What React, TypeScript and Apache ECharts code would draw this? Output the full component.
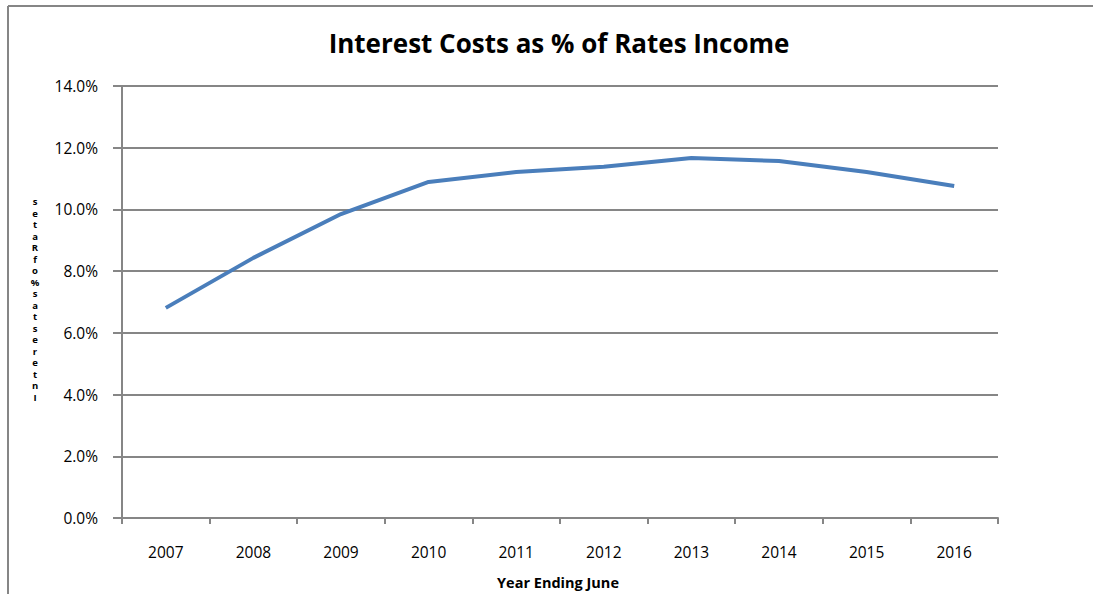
import React, { useEffect, useRef } from "react";
import * as echarts from "echarts";

const years = ["2007", "2008", "2009", "2010", "2011", "2012", "2013", "2014", "2015", "2016"];
const interestPct = [6.81, 8.43, 9.85, 10.89, 11.21, 11.38, 11.67, 11.57, 11.21, 10.76];
const titleText = "Interest Costs as % of Rates Income";
const xTitle = "Year Ending June";
const yTitle = "Interest as % of Rates";

export default function App() {
  const ref = useRef<HTMLDivElement>(null);
  useEffect(() => {
    if (!ref.current) return;
    const chart = echarts.init(ref.current, null, { renderer: "svg" });
    const stacked = yTitle.replace(/ /g, "").split("").reverse().join("\n");
    const font = "'Open Sans', 'Liberation Sans', sans-serif";
    chart.setOption({
      animation: false,
      backgroundColor: "#ffffff",
      title: {
        text: titleText,
        left: 554,
        top: 25,
        textAlign: "center",
        textStyle: { fontFamily: font, fontWeight: "bold", fontSize: 26, color: "#000" },
      },
      grid: { left: 122, right: 95, top: 86, bottom: 76 },
      xAxis: {
        type: "category",
        data: years,
        boundaryGap: true,
        axisLine: { show: true, lineStyle: { color: "#868686", width: 2 } },
        axisTick: { show: true, length: 6, lineStyle: { color: "#868686", width: 2 } },
        axisLabel: { margin: 26, fontFamily: font, fontSize: 15.5, color: "#000" },
        splitLine: { show: false },
      },
      yAxis: {
        type: "value",
        min: 0,
        max: 14,
        interval: 2,
        axisLine: { show: true, lineStyle: { color: "#868686", width: 2 } },
        axisTick: { show: true, length: 9, lineStyle: { color: "#868686", width: 2 } },
        axisLabel: {
          margin: 24,
          fontFamily: font,
          fontSize: 15.5,
          color: "#000",
          formatter: (v: number) => v.toFixed(1) + "%",
        },
        splitLine: { show: true, lineStyle: { color: "#868686", width: 2 } },
      },
      series: [
        {
          type: "line",
          data: interestPct,
          smooth: false,
          symbol: "none",
          lineStyle: { color: "#4a7ebb", width: 4 },
        },
      ],
      graphic: [
        { type: "line", shape: { x1: 8, y1: 6, x2: 1093, y2: 6 }, style: { stroke: "#868686", lineWidth: 2 } },
        { type: "line", shape: { x1: 8, y1: 6, x2: 8, y2: 594 }, style: { stroke: "#868686", lineWidth: 2 } },
        {
          type: "text",
          x: 558,
          y: 582,
          style: {
            text: xTitle,
            fontFamily: font,
            fontWeight: "bold",
            fontSize: 14.5,
            fill: "#000",
            textAlign: "center",
            textVerticalAlign: "middle",
          },
        },
        {
          type: "text",
          x: 35,
          y: 196,
          style: {
            text: stacked,
            fontFamily: font,
            fontWeight: "bold",
            fontSize: 9.5,
            lineHeight: 11.5,
            fill: "#000",
            textAlign: "center",
            textVerticalAlign: "top",
          },
        },
      ],
    });
    return () => chart.dispose();
  }, []);
  return (
    <div
      ref={ref}
      style={{ position: "fixed", left: 0, top: 0, width: 1093, height: 594 }}
    />
  );
}
